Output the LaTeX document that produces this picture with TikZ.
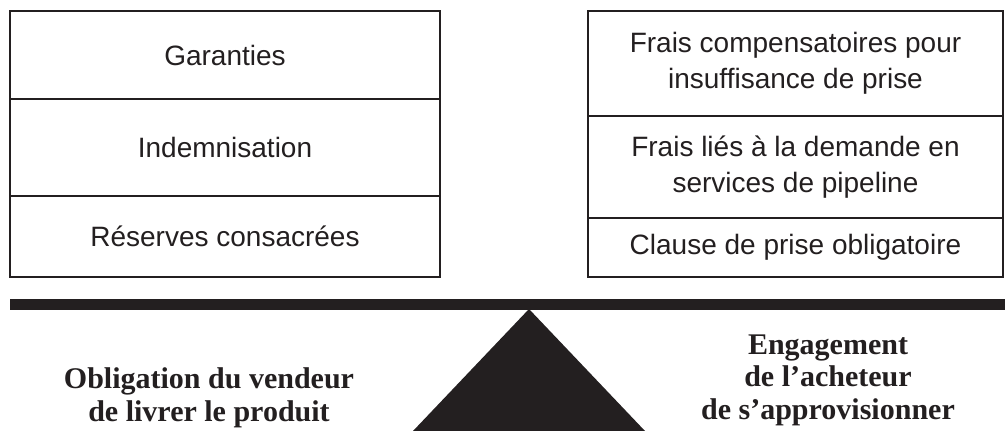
\documentclass[tikz,border=0pt]{standalone}
\usepackage{fontspec}
\usepackage{tikz}
\setmainfont{Liberation Serif}
\newfontfamily\boxfont{Liberation Sans}
\definecolor{ink}{HTML}{231F20}

\begin{document}
\begin{tikzpicture}[x=1pt, y=-1pt]
  \tikzstyle{left} = [draw=ink, line width=1.6pt, minimum width=430pt, inner sep=0pt, align=center, text=ink, font=\boxfont\fontsize{28}{36}\selectfont]
  \tikzstyle{right} = [draw=ink, line width=1.6pt, minimum width=415pt, inner sep=0pt, align=center, text=ink, font=\boxfont\fontsize{28}{36}\selectfont]
  \tikzstyle{weight} = [anchor=base, align=center, text=ink, inner sep=0pt, font=\bfseries\fontsize{30}{32.5}\selectfont]

  \useasboundingbox (0,0) rectangle (1005,431);

  \node[left, minimum height=88pt] (l1) at (225,55) {Garanties};
  \node[left, minimum height=97pt] (l2) at (225,147.5) {Indemnisation};
  \node[left, minimum height=81pt] (l3) at (225,236.5) {Réserves consacrées};

  \node[right, minimum height=105pt] (r1) at (795.5,63.5) {Frais compensatoires pour\\insuffisance de prise};
  \node[right, minimum height=102pt] (r2) at (795.5,167) {Frais liés à la demande en\\services de pipeline};
  \node[right, minimum height=59pt] (r3) at (795.5,247.5) {Clause de prise obligatoire};

  \fill[ink] (10,299) rectangle (1005,310);
  \fill[ink] (529,309) -- (645,431) -- (413,431) -- cycle;

  \node[weight] (seller) at (209,421) {Obligation du vendeur\\de livrer le produit};
  \node[weight] (buyer) at (828,419) {Engagement\\de l’acheteur\\de s’approvisionner};
\end{tikzpicture}
\end{document}
